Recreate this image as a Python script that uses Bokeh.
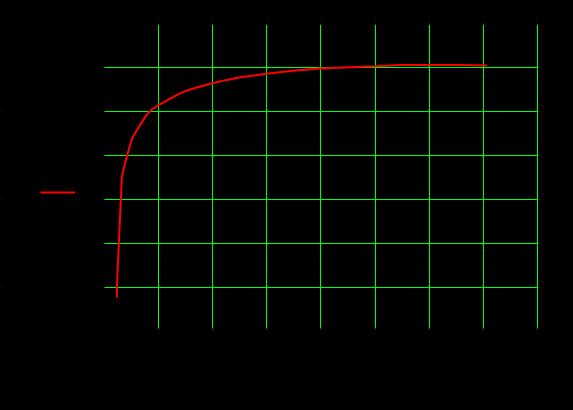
from bokeh.plotting import figure
from bokeh.models import Range1d, FixedTicker, Legend, LegendItem, BoxAnnotation
from bokeh.embed import file_html
from bokeh.resources import INLINE

# data
x_vals = [0.23, 0.23, 0.25, 0.27, 0.29, 0.31, 0.32, 0.36, 0.41, 0.46, 0.52, 0.60,
          0.69, 0.78, 0.87, 0.99, 1.15, 1.34, 1.52, 1.77, 2.01, 2.26, 2.51, 2.69,
          2.99, 3.48, 3.98, 4.54, 5.00, 5.46, 6.00, 6.57, 7.07]
y_vals = [-0.23, 0.03, 0.60, 1.13, 1.68, 2.21, 2.51, 2.73, 2.96, 3.19, 3.42, 3.58,
          3.76, 3.93, 4.04, 4.14, 4.25, 4.38, 4.48, 4.57, 4.65, 4.72, 4.78, 4.81,
          4.86, 4.93, 4.98, 5.01, 5.03, 5.06, 5.06, 5.06, 5.05]
x_ticks = [1, 2, 3, 4, 5, 6, 7, 8]
y_ticks = [0, 1, 2, 3, 4, 5]
series_name = "y"

RED = "#ff0000"
GREEN = "#00ff00"

# the frame reaches the left edge so the legend (left of the data area) is not clipped
p = figure(frame_width=538, frame_height=306,
           min_border_left=0, min_border_right=35,
           min_border_top=24, min_border_bottom=80,
           x_range=Range1d(-1.922, 8.02), y_range=Range1d(-0.98, 5.98),
           output_backend="svg", toolbar_location=None)
p.background_fill_color = "black"
p.border_fill_color = "black"
p.outline_line_color = None

r = p.line(x_vals, y_vals, line_color=RED, line_width=2)

p.xaxis.ticker = FixedTicker(ticks=x_ticks)
p.yaxis.ticker = FixedTicker(ticks=y_ticks)
for ax in (p.xaxis, p.yaxis):
    ax.axis_line_color = "black"
    ax.major_tick_line_color = "black"
    ax.minor_tick_line_color = None
    ax.major_label_text_color = "black"
p.yaxis.visible = False

p.xgrid.grid_line_color = GREEN
p.ygrid.grid_line_color = GREEN
p.xgrid.grid_line_width = 1
p.ygrid.grid_line_width = 1

# mask the grid left of the data area (legend zone)
mask = BoxAnnotation(left=-3, right=0, fill_color="black", fill_alpha=1.0,
                     line_color=None)
p.add_layout(mask)

legend = Legend(items=[LegendItem(label=series_name, renderers=[r])],
                location=(40, 128), padding=0, margin=0,
                glyph_width=35, glyph_height=20, label_height=20,
                label_width=5, label_standoff=5,
                border_line_color=None, background_fill_alpha=0,
                label_text_color="black")
p.add_layout(legend, "center")

html = file_html(p, INLINE)
html = html.replace("<head>", "<head><style>html,body{background-color:#000;}</style>", 1)
open("out.html", "w").write(html)
